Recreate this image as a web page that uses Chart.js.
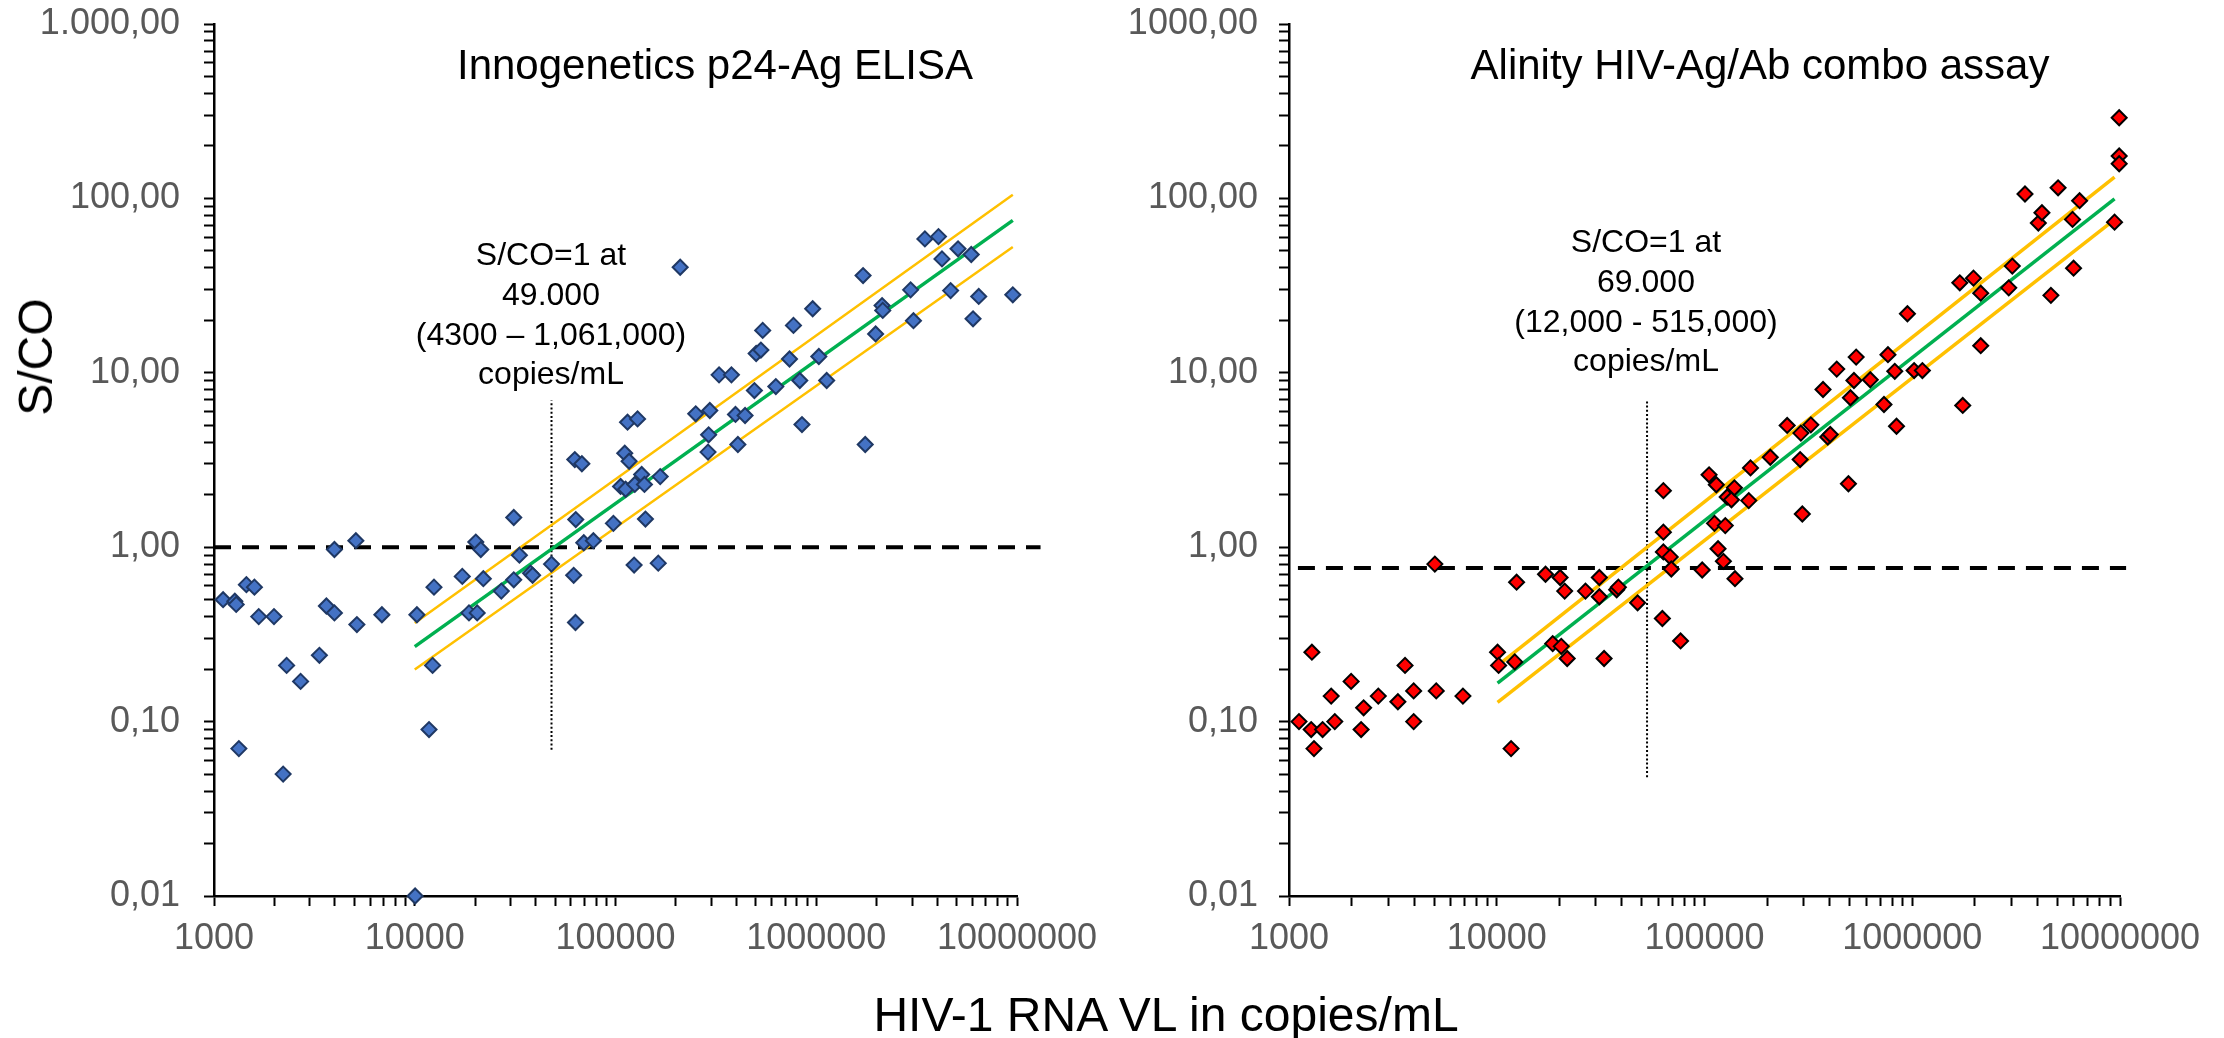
<!DOCTYPE html>
<html>
<head>
<meta charset="utf-8">
<title>S/CO vs HIV-1 RNA VL</title>
<script src="https://cdn.jsdelivr.net/npm/chart.js@4.4.1/dist/chart.umd.min.js"></script>
<style>
  body { margin: 0; background: #fff; font-family: "Liberation Sans", Arial, sans-serif; }
  #page { position: relative; width: 2224px; height: 1038px; overflow: hidden; background: #fff; }
  canvas { position: absolute; top: 0; }
  #chart-inno { left: 0; }
  #chart-alin { left: 1107px; }
  .lbl { position: absolute; white-space: nowrap; line-height: 1; color: #000; }
</style>
</head>
<body>
<div id="page">
  <canvas id="chart-inno" width="1107" height="1038"></canvas>
  <canvas id="chart-alin" width="1117" height="1038"></canvas>
</div>
<script>
// axis ticks
const xTickValues = [1000, 10000, 100000, 1000000, 10000000];
const xTickLabels = ['1000', '10000', '100000', '1000000', '10000000'];
const yTickValues = [0.01, 0.1, 1, 10, 100, 1000];
const yTickLabelsInno = ['0,01', '0,10', '1,00', '10,00', '100,00', '1.000,00'];
const yTickLabelsAlin = ['0,01', '0,10', '1,00', '10,00', '100,00', '1000,00'];

// Innogenetics p24-Ag ELISA (viral load, S/CO)
const innoVL = [1110, 1270, 1290, 1450, 1590, 1670, 1990, 1330, 2300, 2700,
  2210, 3350, 3630, 3980, 3980, 5090, 5150, 6860, 10250, 10040,
  11780, 12270, 12470, 17250, 18630, 20470, 20140, 21330, 21960, 26990,
  31130, 31130, 33220, 37740, 38650, 47990, 63400, 61900, 63200, 69500,
  77600, 97600, 141000, 123800, 163300, 62700, 68000, 111200, 116900, 106000,
  112300, 124800, 135000, 139400, 167000, 289000, 210000, 114800, 128800, 251000,
  295000, 291000, 328000, 378000, 396000, 442000, 407000, 492000, 502000, 530000,
  541000, 629000, 736000, 770000, 828000, 849000, 960000, 1030000, 1127000, 1711000,
  1754000, 1976000, 2128000, 2144000, 2951000, 3050000, 3477000, 4063000, 4230000, 5085000,
  5918000, 4670000, 6447000, 6040000, 9530000];
const innoSCO = [0.50, 0.49, 0.47, 0.61, 0.59, 0.40, 0.40, 0.07, 0.21, 0.17,
  0.05, 0.24, 0.46, 0.42, 0.97, 1.09, 0.36, 0.41, 0.41, 0.01,
  0.09, 0.21, 0.59, 0.68, 0.42, 0.42, 1.07, 0.97, 0.66, 0.56,
  1.48, 0.65, 0.90, 0.71, 0.69, 0.80, 1.44, 0.69, 0.37, 1.06,
  1.09, 1.37, 1.45, 0.79, 0.81, 3.18, 3.01, 3.46, 3.11, 2.23,
  2.15, 2.29, 2.61, 2.29, 2.54, 3.51, 40.3, 5.21, 5.44, 5.82,
  6.08, 4.41, 9.73, 9.73, 5.77, 5.69, 3.88, 7.91, 12.9, 13.5,
  17.5, 8.34, 12.0, 18.7, 9.03, 5.05, 23.3, 12.4, 9.03, 36.1,
  3.88, 16.7, 24.3, 22.8, 29.9, 19.9, 58.6, 60.4, 45.0, 51.4,
  47.7, 29.6, 27.4, 20.4, 28.0];
const innoFitVL = [10000, 9530000];
const innoFit = [0.269, 74.8];
const innoUpper = [0.368, 105];
const innoLower = [0.199, 52.6];
const innoCutVL = [1000, 13100000];
const innoCut = [1.0, 1.0];
const innoMarkVL = [48000, 48000];
const innoMark = [0.069, 6.94];
const innoNote = ['S/CO=1 at', '49.000', '(4300 \u2013 1,061,000)', 'copies/mL'];

// Alinity HIV-Ag/Ab combo assay
const alinVL = [1117, 1279, 1289, 1319, 1451, 1596, 1661, 1991, 2224, 2287,
  2690, 3343, 3619, 3982, 3982, 5035, 5114, 6873, 10090, 10210,
  11720, 12210, 12460, 17170, 18590, 20440, 20180, 21230, 21830, 26730,
  31180, 31180, 32860, 37780, 38500, 47640, 63400, 63400, 63400, 62700,
  68400, 69200, 76700, 97500, 105200, 114000, 111700, 125900, 116200, 123300,
  140200, 128600, 134800, 139300, 163300, 166500, 207300, 288700, 295700, 493000,
  250000, 291000, 325000, 372000, 392000, 403000, 433000, 504000, 524000, 537000,
  628000, 731000, 764000, 840000, 824000, 1021000, 1119000, 948000, 1750000, 2136000,
  1694000, 1971000, 2136000, 2914000, 3031000, 3489000, 4045000, 4210000, 4649000, 5035000,
  5908000, 5977000, 6391000, 9414000, 9910000, 9910000, 9910000];
const alinSCO = [0.10, 0.09, 0.25, 0.07, 0.09, 0.14, 0.10, 0.17, 0.09, 0.12,
  0.14, 0.13, 0.21, 0.15, 0.10, 0.80, 0.15, 0.14, 0.25, 0.21,
  0.07, 0.22, 0.63, 0.70, 0.28, 0.27, 0.67, 0.56, 0.23, 0.56,
  0.67, 0.52, 0.23, 0.57, 0.59, 0.48, 2.11, 1.22, 0.94, 0.39,
  0.88, 0.75, 0.29, 0.74, 2.60, 2.28, 1.37, 1.33, 0.98, 0.83,
  0.66, 1.94, 1.87, 2.19, 1.85, 2.85, 3.28, 3.18, 1.55, 2.31,
  4.99, 4.51, 5.03, 8.02, 4.28, 4.43, 10.5, 7.19, 9.03, 12.3,
  9.12, 6.58, 12.7, 4.94, 10.2, 10.3, 10.3, 21.8, 6.50, 14.3,
  32.8, 34.9, 28.6, 30.7, 40.9, 106, 72.2, 82.7, 27.8, 115,
  75.8, 39.8, 97.0, 73.1, 290, 175, 158];
const alinFitVL = [10090, 9414000];
const alinFit = [0.166, 99.5];
const alinUpperVL = [10600, 9414000];
const alinUpper = [0.219, 132.5];
const alinLowerVL = [10090, 9414000];
const alinLower = [0.129, 75.5];
const alinCutVL = [1104, 10700000];
const alinCut = [0.761, 0.761];
const alinMarkVL = [52900, 52900];
const alinMark = [0.048, 6.94];
const alinNote = ['S/CO=1 at', '69.000', '(12,000 - 515,000)', 'copies/mL'];

const FONT = '"Liberation Sans", Arial, sans-serif';
const page = document.getElementById('page');

function toPoints(xs, ys) {
  return xs.map((x, i) => ({ x: x, y: ys[i] }));
}

function pickLabel(value, values, labels) {
  for (let i = 0; i < values.length; i++) {
    if (Math.abs(Math.log10(value) - Math.log10(values[i])) < 1e-6) return labels[i];
  }
  return '';
}

// 1..9 x each decade, like the excel log axis (no 1.5 ticks)
function decadeTicks(min, max) {
  const out = [];
  const lo = Math.round(Math.log10(min));
  const hi = Math.round(Math.log10(max));
  for (let d = lo; d < hi; d++) {
    for (let k = 1; k <= 9; k++) {
      out.push({ value: Number((k * Math.pow(10, d)).toPrecision(6)), major: k === 1 });
    }
  }
  out.push({ value: max, major: true });
  return out;
}

function logAxis(min, max, values, labels, isX, size, pad) {
  return {
    type: 'logarithmic',
    min: min,
    max: max,
    border: { display: true, color: '#000', width: 2.5 },
    grid: { drawOnChartArea: false, drawTicks: true, tickLength: 10, tickColor: '#000', tickWidth: 2 },
    ticks: {
      autoSkip: false,
      maxRotation: 0,
      minRotation: 0,
      color: '#595959',
      font: { family: FONT, size: 36 },
      padding: pad,
      callback: function(value) { return pickLabel(value, values, labels); }
    },
    afterBuildTicks: function(scale) { scale.ticks = decadeTicks(min, max); },
    afterFit: function(scale) {
      // fixed box sizes so the plot area sits where the original one does
      if (isX) scale.height = size;
      else scale.width = size;
      scale.paddingTop = 0;
      scale.paddingBottom = 0;
      scale.paddingLeft = 0;
      scale.paddingRight = 0;
    }
  };
}

function lineSet(xs, ys, color, width, dash) {
  return {
    data: toPoints(xs, ys),
    showLine: true,
    borderColor: color,
    borderWidth: width,
    borderDash: dash || [],
    pointRadius: 0,
    fill: false,
    clip: false,
    order: 2
  };
}

function makeChart(id, cfg) {
  const ctx = document.getElementById(id);
  return new Chart(ctx, {
    type: 'scatter',
    data: {
      datasets: [
        {
          data: toPoints(cfg.vl, cfg.sco),
          pointStyle: 'rectRot',
          pointRadius: 7.5,
          backgroundColor: cfg.fill,
          borderColor: cfg.edge,
          borderWidth: 2,
          clip: false,
          order: 0
        },
        lineSet(cfg.upperVL, cfg.upper, '#FFC000', cfg.bandWidth),
        lineSet(cfg.lowerVL, cfg.lower, '#FFC000', cfg.bandWidth),
        lineSet(cfg.fitVL, cfg.fit, '#00B050', 3.5),
        lineSet(cfg.cutVL, cfg.cut, '#000', 4, [17, 11]),
        lineSet(cfg.markVL, cfg.mark, '#000', 2, [2, 2.2])
      ]
    },
    options: {
      responsive: false,
      animation: false,
      events: [],
      layout: { padding: { left: 0, right: cfg.padRight, top: 24, bottom: 0 } },
      plugins: { legend: { display: false }, tooltip: { enabled: false }, title: { display: false } },
      scales: {
        x: logAxis(1000, 10000000, xTickValues, xTickLabels, true, 142, 11),
        y: logAxis(0.01, 1000, yTickValues, cfg.yLabels, false, cfg.yWidth, cfg.yPad)
      }
    }
  });
}

makeChart('chart-inno', {
  vl: innoVL, sco: innoSCO, fill: '#4472C4', edge: '#1F3864',
  fitVL: innoFitVL, fit: innoFit,
  upperVL: innoFitVL, upper: innoUpper, lowerVL: innoFitVL, lower: innoLower, bandWidth: 2.5,
  cutVL: innoCutVL, cut: innoCut, markVL: innoMarkVL, mark: innoMark,
  yLabels: yTickLabelsInno, yWidth: 214, yPad: 24, padRight: 90
});

makeChart('chart-alin', {
  vl: alinVL, sco: alinSCO, fill: '#FF0000', edge: '#000000',
  fitVL: alinFitVL, fit: alinFit,
  upperVL: alinUpperVL, upper: alinUpper, lowerVL: alinLowerVL, lower: alinLower, bandWidth: 3.5,
  cutVL: alinCutVL, cut: alinCut, markVL: alinMarkVL, mark: alinMark,
  yLabels: yTickLabelsAlin, yWidth: 182, yPad: 21, padRight: 104
});

// text on top of the canvases
function addText(txt, cx, baseline, size) {
  const el = document.createElement('div');
  el.className = 'lbl';
  el.textContent = txt;
  el.style.fontSize = size + 'px';
  el.style.left = cx + 'px';
  el.style.top = (baseline - 0.8465 * size) + 'px';
  el.style.transform = 'translateX(-50%)';
  page.appendChild(el);
  return el;
}

addText('Innogenetics p24-Ag ELISA', 715, 80, 42);
addText('Alinity HIV-Ag/Ab combo assay', 1760, 80, 42);

const innoBase = [265, 305, 345, 384];
innoNote.forEach((t, i) => addText(t, 551, innoBase[i], 32));
const alinBase = [252, 292, 332, 371];
alinNote.forEach((t, i) => addText(t, 1646, alinBase[i], 32));

addText('HIV-1 RNA VL in copies/mL', 1166, 1032, 48);

const yTitle = addText('S/CO', 36, 0, 48);
yTitle.style.top = (357 - 24) + 'px';
yTitle.style.transform = 'translate(-50%, 0) rotate(-90deg)';
</script>
</body>
</html>
